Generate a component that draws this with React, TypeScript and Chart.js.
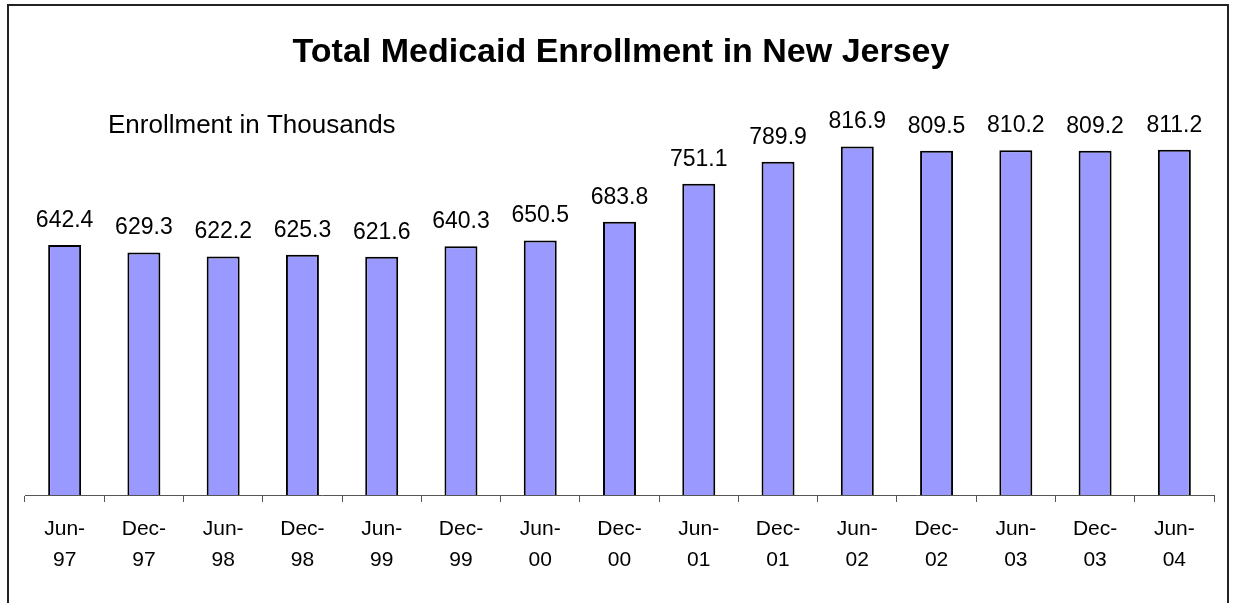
import React, { useEffect, useRef } from "react";
import { Chart, registerables } from "chart.js";

Chart.register(...registerables);

const TITLE = "Total Medicaid Enrollment in New Jersey";
const SUBTITLE = "Enrollment in Thousands";
const months = ["Jun-", "Dec-", "Jun-", "Dec-", "Jun-", "Dec-", "Jun-", "Dec-", "Jun-", "Dec-", "Jun-", "Dec-", "Jun-", "Dec-", "Jun-"];
const years = ["97", "97", "98", "98", "99", "99", "00", "00", "01", "01", "02", "02", "03", "03", "04"];
const enrollment = [642.4, 629.3, 622.2, 625.3, 621.6, 640.3, 650.5, 683.8, 751.1, 789.9, 816.9, 809.5, 810.2, 809.2, 811.2];
const Y_MIN = 200;
const Y_MAX = 1000;

const FONT = "'Liberation Sans', Arial, Helvetica, sans-serif";

const textPlugin = {
  id: "textPlugin",
  afterDatasetsDraw(chart: any) {
    const ctx = chart.ctx;
    ctx.save();
    ctx.fillStyle = "#000";
    // title
    ctx.font = `bold 34px ${FONT}`;
    ctx.textAlign = "center";
    ctx.textBaseline = "alphabetic";
    ctx.fillText(TITLE, 621, 62);
    // subtitle
    ctx.font = `26px ${FONT}`;
    ctx.textAlign = "left";
    ctx.fillText(SUBTITLE, 108, 133);
    // value labels
    ctx.font = `23px ${FONT}`;
    ctx.textAlign = "center";
    const meta = chart.getDatasetMeta(0);
    meta.data.forEach((bar: any, i: number) => {
      const v = chart.data.datasets[0].data[i] as number;
      ctx.fillText(v.toFixed(1), bar.x, bar.y - 18);
    });
    ctx.restore();
  },
};

export default function App() {
  const ref = useRef<HTMLCanvasElement>(null);
  useEffect(() => {
    if (!ref.current) return;
    const chart = new Chart(ref.current, {
      type: "bar",
      data: {
        labels: months.map((m, i) => [m, years[i]]),
        datasets: [
          {
            data: enrollment,
            backgroundColor: "#9999FF",
            borderColor: "#000000",
            borderWidth: 2,
            categoryPercentage: 1,
            barPercentage: 0.416,
          },
        ],
      },
      options: {
        responsive: false,
        animation: false,
        layout: { padding: { left: 25, right: 21, top: 43, bottom: 0 } },
        plugins: {
          legend: { display: false },
          tooltip: { enabled: false },
          title: { display: false },
        },
        scales: {
          x: {
            grid: {
              display: true,
              offset: true,
              drawOnChartArea: false,
              drawTicks: true,
              tickLength: 7,
              tickColor: "#555",
              tickWidth: 1,
            },
            border: { display: true, color: "#555", width: 1 },
            ticks: {
              color: "#000",
              padding: 12,
              maxRotation: 0,
              autoSkip: false,
              font: { family: FONT, size: 21, lineHeight: 1.48 },
            },
            afterFit: (s: any) => {
              s.height = 108;
            },
          },
          y: {
            display: false,
            min: Y_MIN,
            max: Y_MAX,
          },
        },
      },
      plugins: [textPlugin],
    });
    return () => chart.destroy();
  }, []);
  return (
    <div style={{ position: "fixed", left: 0, top: 0, width: 1235, height: 603, background: "#fff" }}>
      <canvas ref={ref} width={1235} height={603} style={{ position: "absolute", left: 0, top: 0 }} />
      <div
        style={{
          position: "absolute",
          left: 7,
          top: 4,
          width: 1222,
          height: 700,
          border: "2px solid #222",
          boxSizing: "border-box",
          pointerEvents: "none",
        }}
      />
    </div>
  );
}
